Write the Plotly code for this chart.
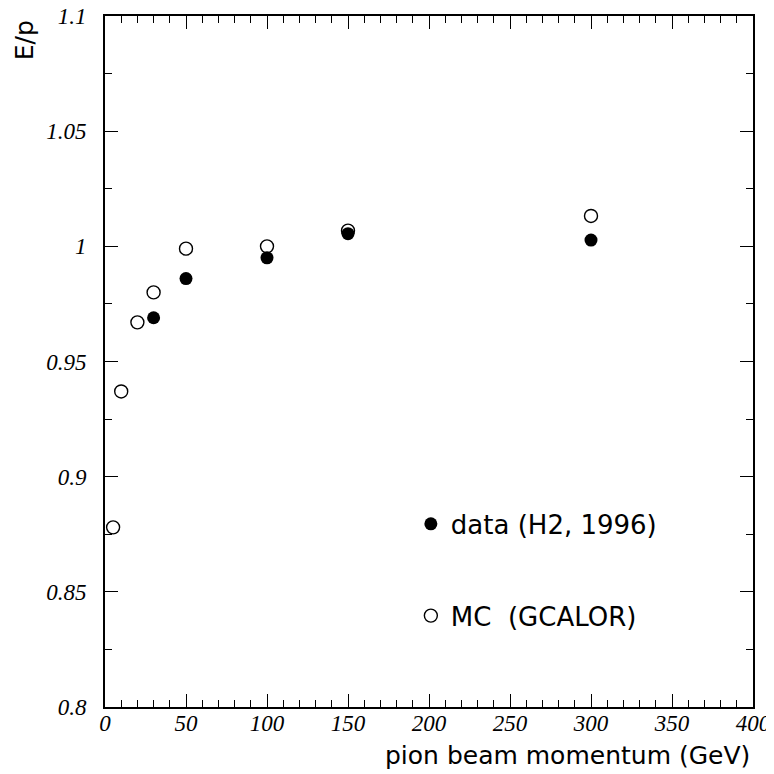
import plotly.graph_objects as go

# MC (GCALOR) simulation
mc_momentum = [5, 10, 20, 30, 50, 100, 150, 300]
mc_ep = [0.878, 0.937, 0.967, 0.980, 0.999, 1.000, 1.0068, 1.0132]

# data (H2, 1996)
data_momentum = [30, 50, 100, 150, 300]
data_ep = [0.969, 0.986, 0.995, 1.0055, 1.0027]

x_ticks = [0, 50, 100, 150, 200, 250, 300, 350, 400]
y_ticks = [0.8, 0.85, 0.9, 0.95, 1.0, 1.05, 1.1]
y_tick_labels = ["0.8", "0.85", "0.9", "0.95", "1", "1.05", "1.1"]

fig = go.Figure()
fig.add_trace(go.Scatter(
    x=mc_momentum, y=mc_ep, mode="markers", name="MC  (GCALOR)",
    legendgroup="mc", legendrank=2,
    marker=dict(symbol="circle-open", size=13, color="black", line=dict(width=1.4, color="black")),
))
fig.add_trace(go.Scatter(
    x=data_momentum, y=data_ep, mode="markers", name="data (H2, 1996)",
    legendgroup="data", legendrank=1,
    marker=dict(symbol="circle", size=13, color="black"),
))

tickfont = dict(family="Liberation Serif", size=23, color="black", style="italic")

fig.update_xaxes(
    range=[0, 400], tickvals=x_ticks, ticks="inside", ticklen=13, tickwidth=1.2,
    tickcolor="black", showline=True, linewidth=2, linecolor="black", mirror="allticks",
    showgrid=False, zeroline=False, tickfont=tickfont, automargin=False,
    ticklabelstandoff=-6, ticklabeloverflow="allow",
    minor=dict(dtick=10, ticks="inside", ticklen=7, tickwidth=1.2, tickcolor="black", showgrid=False),
)
fig.update_yaxes(
    range=[0.8, 1.1], tickvals=y_ticks, ticktext=y_tick_labels, ticks="inside", ticklen=13,
    tickwidth=1.2, tickcolor="black", showline=True, linewidth=2, linecolor="black",
    mirror="allticks", showgrid=False, zeroline=False, tickfont=tickfont,
    ticklabelstandoff=12, automargin=False, ticklabeloverflow="allow",
    minor=dict(dtick=0.025, ticks="inside", ticklen=7, tickwidth=1.2, tickcolor="black", showgrid=False),
)

fig.add_annotation(
    text="pion beam momentum (GeV)", xref="paper", yref="paper", x=0.9985, y=-0.0695,
    xanchor="right", yanchor="middle", showarrow=False,
    font=dict(family="DejaVu Sans", size=25, color="black"),
)
fig.add_annotation(
    text="E/p", xref="paper", yref="paper", x=-0.125, y=0.965,
    xanchor="center", yanchor="middle", textangle=-90, showarrow=False,
    font=dict(family="DejaVu Sans", size=25, color="black"),
)

fig.update_layout(
    width=766, height=766,
    margin=dict(l=97, r=21, t=8, b=67, pad=0, autoexpand=False),
    paper_bgcolor="white", plot_bgcolor="white",
    showlegend=True,
    legend=dict(
        x=0.472, y=0.299, xanchor="left", yanchor="top",
        font=dict(family="DejaVu Sans", size=26, color="black"),
        bgcolor="rgba(0,0,0,0)", tracegroupgap=55, itemsizing="trace",
    ),
)

fig.write_html("out.html")
